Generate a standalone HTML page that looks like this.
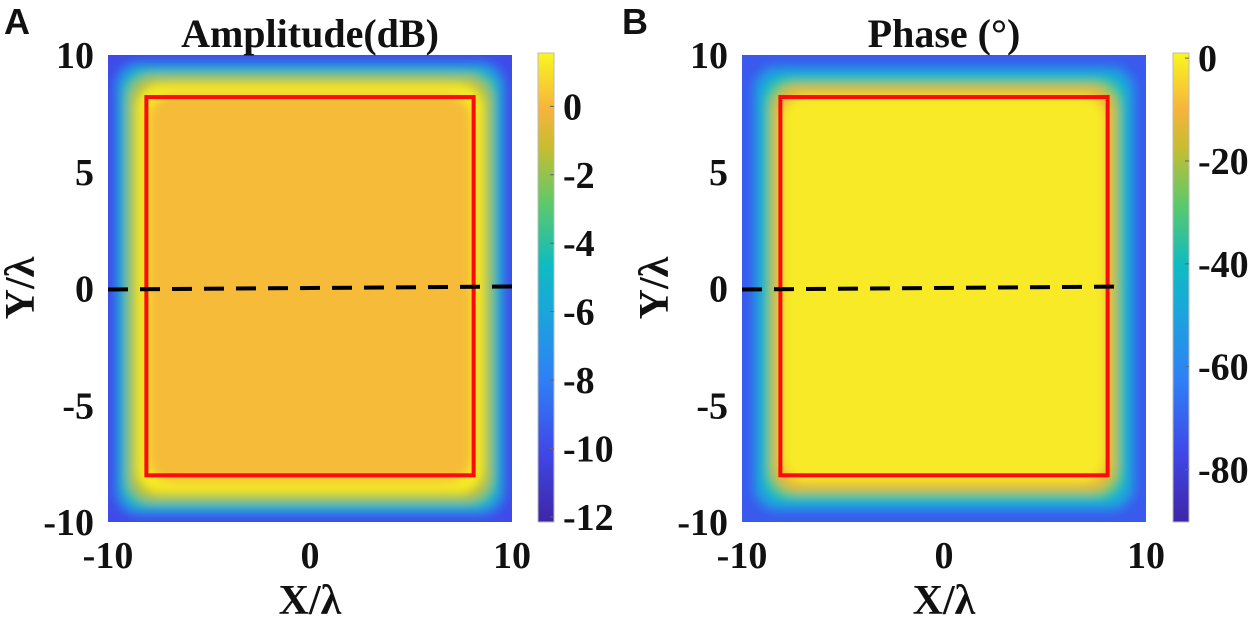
<!DOCTYPE html>
<html><head><meta charset="utf-8"><style>
html,body{margin:0;padding:0;background:#fff;}
body{width:1250px;height:619px;overflow:hidden;}
svg text{font-family:"Liberation Serif",serif;font-weight:bold;fill:#111;}
</style></head><body>
<svg id="fig" width="1250" height="619" viewBox="0 0 1250 619" xmlns="http://www.w3.org/2000/svg">
<defs>
<filter id="blurA" x="-10%" y="-10%" width="120%" height="120%"><feGaussianBlur stdDeviation="5"/></filter>
<linearGradient id="cbA" x1="0" y1="1" x2="0" y2="0">
<stop offset="0" stop-color="#3e26a8"/><stop offset="0.15" stop-color="#4048e8"/><stop offset="0.3" stop-color="#2f7ff6"/><stop offset="0.45" stop-color="#1aa6dc"/><stop offset="0.55" stop-color="#0fbcc0"/><stop offset="0.68" stop-color="#5ec96a"/><stop offset="0.8" stop-color="#c8bd30"/><stop offset="0.88" stop-color="#f6b43c"/><stop offset="1" stop-color="#f9f620"/>
</linearGradient>
<clipPath id="clipA"><rect x="108" y="55" width="404" height="467"/></clipPath>
<clipPath id="clipB"><rect x="742" y="55" width="404" height="467"/></clipPath>
</defs>
<g id="panels"></g>
</svg>
<script>
const levelInsetsA = [0, 7, 14, 21, 29, 40];
const levelValuesA = [-10, -7, -4, -1.5, 1.3, 0.1];
const levelInsetsB = [0, 11, 18, 25, 31, 40];
const levelValuesB = [-72, -55, -42, -28, -12, -1];
const ampTicks = [0, -2, -4, -6, -8, -10, -12];
const phaseTicks = [0, -20, -40, -60, -80];
const axisTicks = [10, 5, 0, -5, -10];
const xTicks = [-10, 0, 10];

const parula = [[0,[62,38,168]],[0.15,[64,72,232]],[0.3,[47,127,246]],[0.45,[26,166,220]],[0.55,[15,188,192]],[0.68,[94,201,106]],[0.8,[200,189,48]],[0.88,[246,180,60]],[1,[249,246,32]]];
function cmap(t){t=Math.max(0,Math.min(1,t));for(let i=1;i<parula.length;i++){if(t<=parula[i][0]){const a=parula[i-1],b=parula[i];const f=(t-a[0])/(b[0]-a[0]);const c=a[1].map((v,k)=>Math.round(v+(b[1][k]-v)*f));return `rgb(${c})`;}}return 'rgb(249,246,32)';}
const NS='http://www.w3.org/2000/svg';
const root=document.getElementById('panels');
function el(tag,attrs,parent,txt){const e=document.createElementNS(NS,tag);for(const k in attrs)e.setAttribute(k,attrs[k]);if(txt!==undefined)e.textContent=txt;(parent||root).appendChild(e);return e;}

function panel(cfg){
  const g=el('g',{});
  
  
  const px=cfg.px, py=55, pw=404, ph=467;
  const sx=v=>px+(v+10)/20*pw, sy=v=>py+(10-v)/20*ph;
  const cnorm=v=>(v-cfg.cmin)/(cfg.cmax-cfg.cmin);
  const hm=el('g',{'clip-path':`url(#${cfg.clip})`},g);
  
  
  el('rect',{x:px,y:py,width:pw,height:ph,fill:cmap(cnorm(cfg.vals[0]))},hm);
  const bl=el('g',{filter:'url(#blurA)'},hm);
  cfg.insets.forEach((ins,i)=>{if(i===0)return;
    const r=el('rect',{x:px+ins,y:py+ins,width:pw-2*ins,height:ph-2*ins,rx:24,fill:cmap(cnorm(cfg.vals[i]))},bl);
    
    
  });
  const rr=el('rect',{x:sx(-8.1),y:sy(8.2),width:sx(8.1)-sx(-8.1),height:sy(-8)-sy(8.2),fill:'none',stroke:'#ff0a0a','stroke-width':4},g);
  
  
  const dl=el('line',{x1:px,y1:sy(0)+1,x2:cfg.dashEnd,y2:sy(0)-2,stroke:'#000','stroke-width':4,'stroke-dasharray':'20 12'},g);
  
  
  axisTicks.forEach(v=>{const t=el('text',{x:px-14,y:sy(v)+13,'text-anchor':'end','font-size':38},g,String(v));
    });
  xTicks.forEach(v=>{const t=el('text',{x:sx(v),y:568,'text-anchor':'middle','font-size':38},g,String(v));
    });
  const xt=el('text',{x:px+pw/2,y:614,'text-anchor':'middle','font-size':42},g,'X/λ');
  
  const yt=el('text',{x:0,y:0,'text-anchor':'middle','font-size':42,transform:`translate(${px-74},288) rotate(-90)`},g,'Y/λ');
  
  const tt=el('text',{x:px+pw/2,y:47,'text-anchor':'middle','font-size':40},g,cfg.title);
  
  const lb=el('text',{x:cfg.lx,y:34,'font-size':36,style:'font-family:"Liberation Sans",sans-serif'},g,cfg.letter);
  
  const cx=cfg.cbx, cy0=53, cy1=522;
  const cbY=v=>cy1-(v-cfg.cmin)/(cfg.cmax-cfg.cmin)*(cy1-cy0);
  const cb=el('rect',{x:cx,y:cy0,width:16,height:cy1-cy0,fill:'url(#cbA)',stroke:'#bbb','stroke-width':1},g);
  
  cfg.cticks.forEach(v=>{
    el('line',{x1:cx+12,x2:cx+16,y1:cbY(v),y2:cbY(v),stroke:'#666','stroke-width':1},g);
    const t=el('text',{x:cx+25,y:cbY(v)+13,'font-size':38},g,String(v));
    
  });
}
panel({name:'amplitude-panel',px:108,clip:'clipA',insets:levelInsetsA,vals:levelValuesA,cmin:-12.15,cmax:1.56,cticks:ampTicks,title:'Amplitude(dB)',letter:'A',lx:4,cbx:538,dashEnd:512});
panel({name:'phase-panel',px:742,clip:'clipB',insets:levelInsetsB,vals:levelValuesB,cmin:-90.2,cmax:1,cticks:phaseTicks,title:'Phase (°)',letter:'B',lx:622,cbx:1173,dashEnd:1126});
</script>
</body></html>
